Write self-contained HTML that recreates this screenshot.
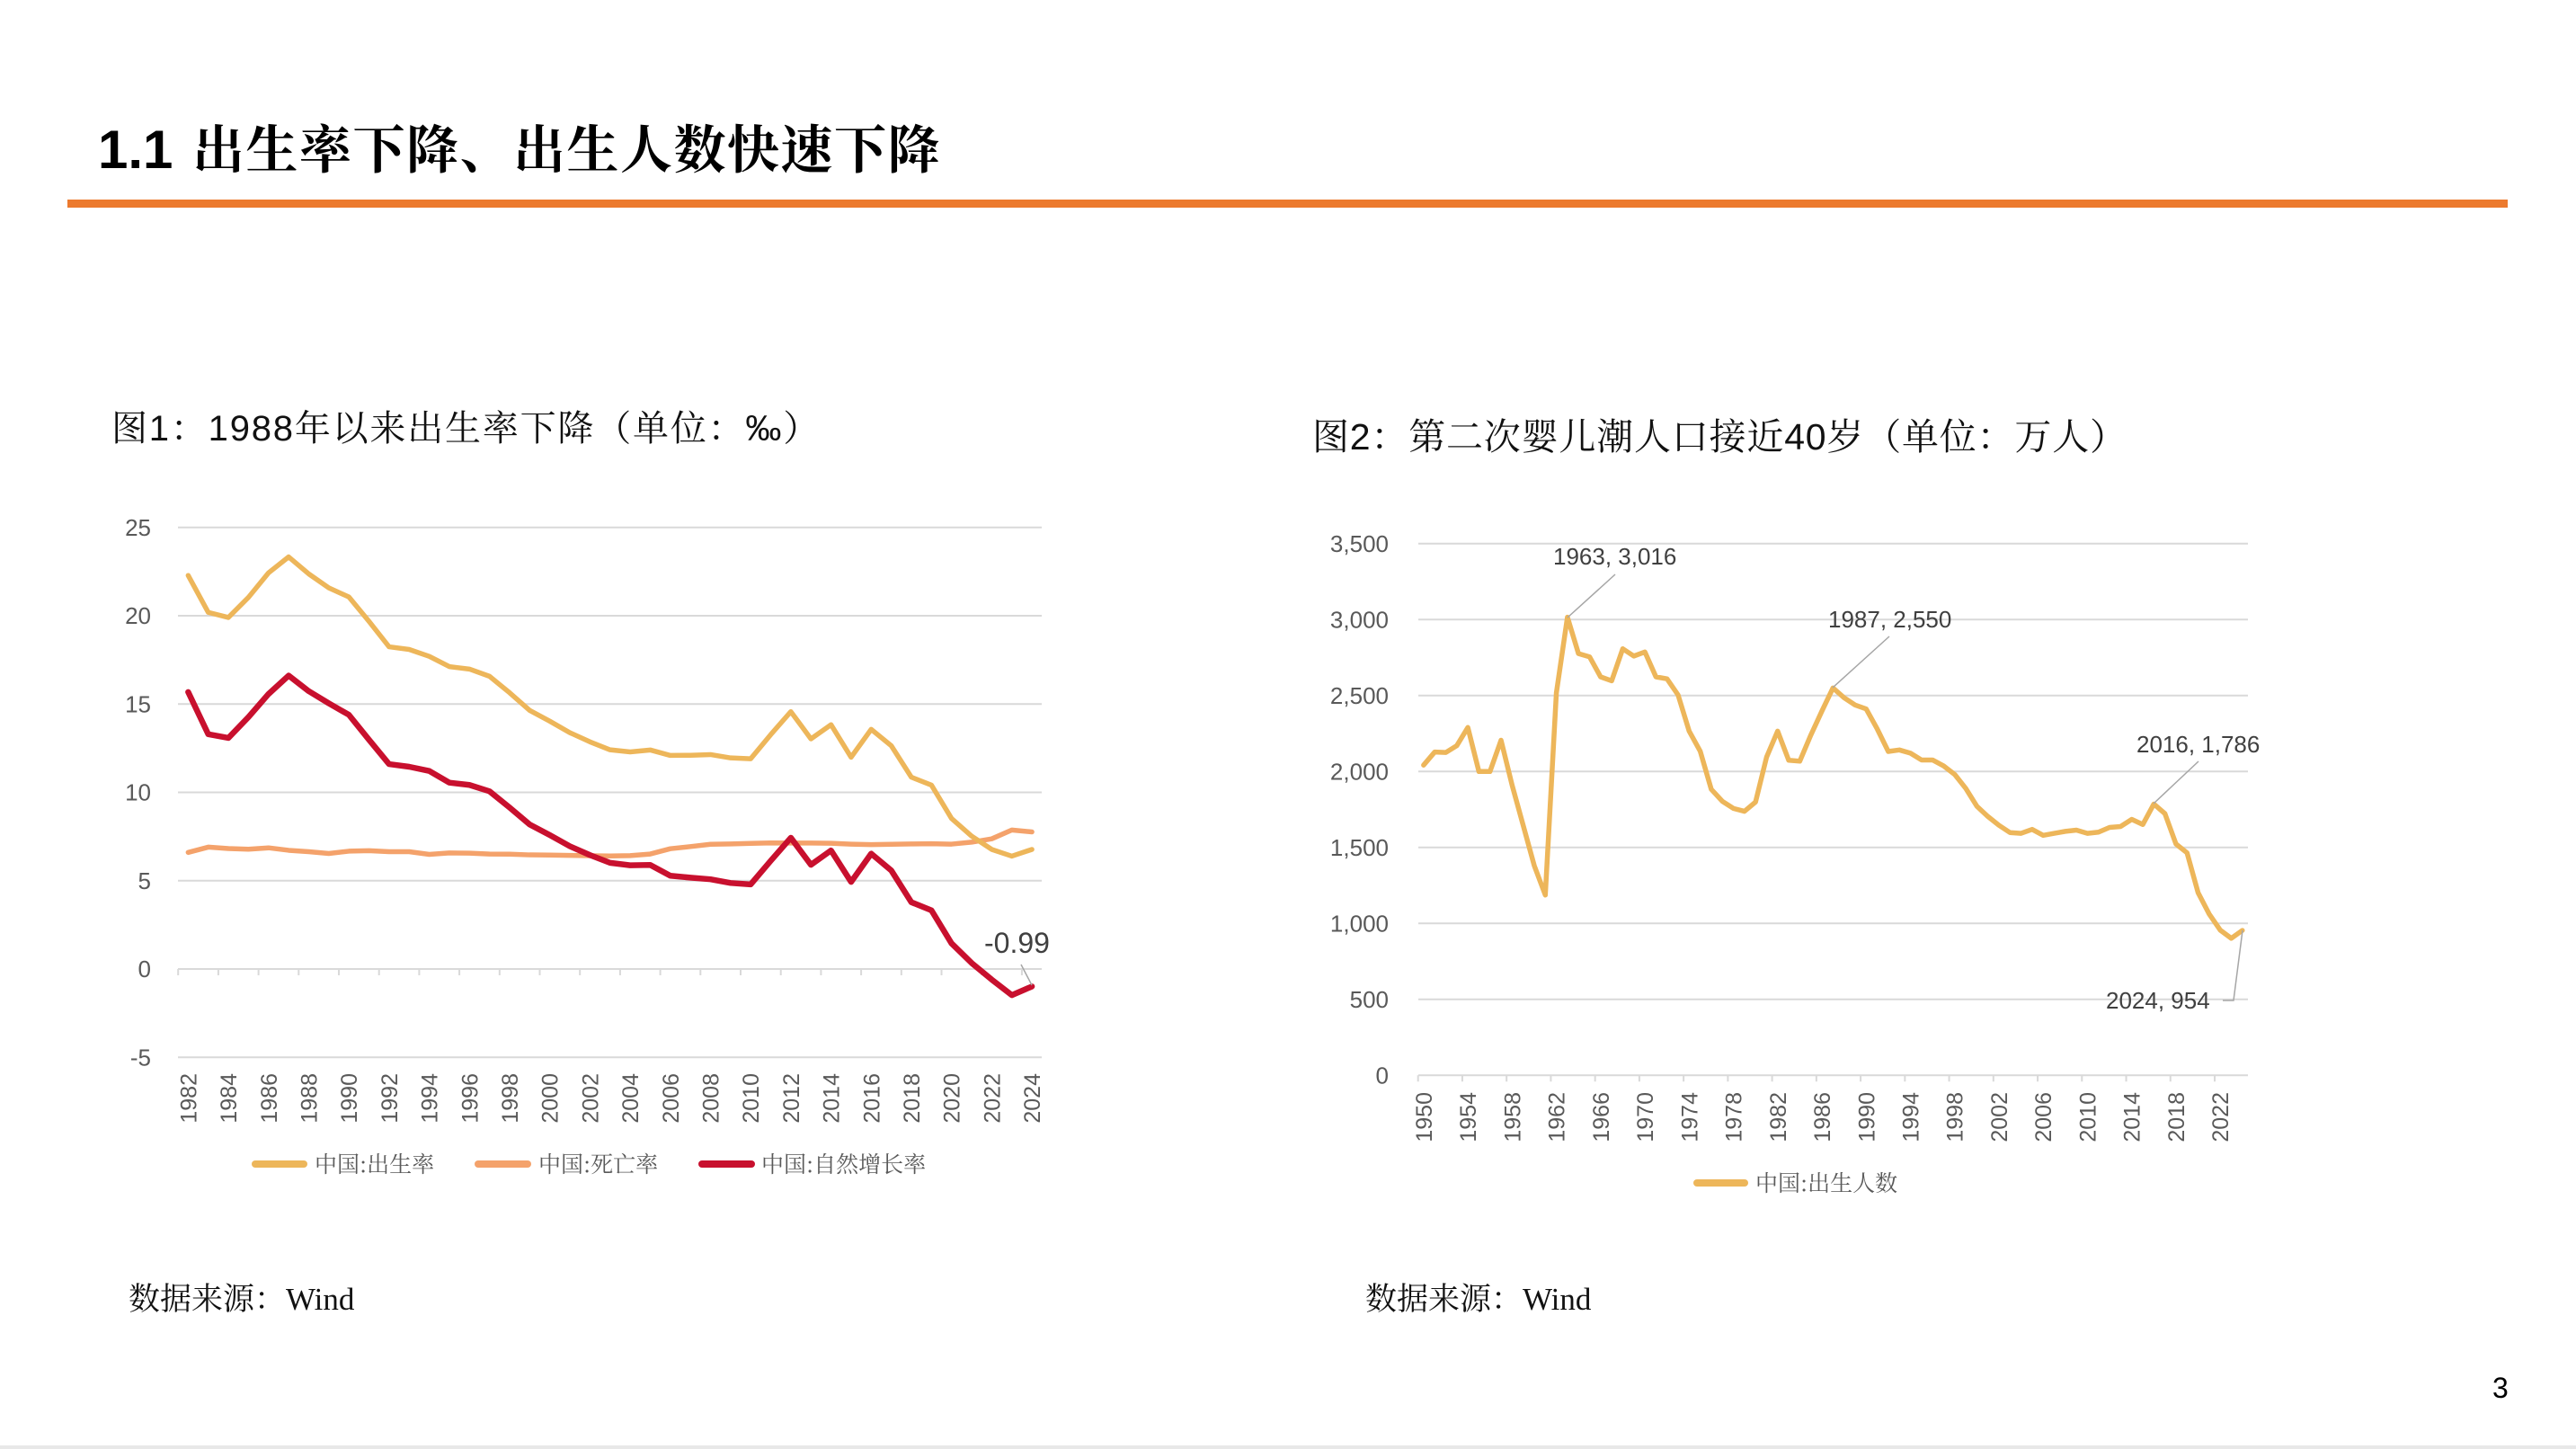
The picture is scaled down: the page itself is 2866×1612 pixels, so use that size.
<!DOCTYPE html>
<html><head><meta charset="utf-8"><style>
html,body{margin:0;padding:0;background:#fff;}
svg{display:block;}
.yl{font-family:"Liberation Sans",sans-serif;font-size:26px;fill:#595959;text-anchor:end;}
.xl{font-family:"Liberation Sans",sans-serif;font-size:25px;fill:#595959;text-anchor:end;}
.an{font-family:"Liberation Sans",sans-serif;font-size:26px;fill:#404040;}
.lg{font-family:"Noto Serif CJK SC","Liberation Serif",serif;font-size:25px;fill:#595959;}
.src{font-family:"Liberation Serif","Noto Serif CJK SC",serif;font-size:35px;fill:#111;}
.ct{font-family:"Liberation Sans","Noto Serif CJK SC",sans-serif;fill:#111;}
.grid{stroke:#D9D9D9;stroke-width:2;}
</style></head><body>
<svg width="2866" height="1612" viewBox="0 0 2866 1612" xmlns="http://www.w3.org/2000/svg">
<rect width="2866" height="1612" fill="#fff"/>
<!-- Title -->
<text x="109" y="187" font-family="Liberation Sans, sans-serif" font-weight="bold" font-size="60" fill="#000">1.1</text>
<text x="214" y="187" font-family="Noto Serif CJK SC, Noto Sans CJK SC, serif" font-weight="bold" font-size="58" letter-spacing="1.5" fill="#000">出生率下降、出生人数快速下降</text>
<rect x="75" y="222" width="2715" height="9" fill="#EC7A2E"/>

<!-- Chart titles -->
<text class="ct" x="124" y="490" font-size="40" letter-spacing="1.8">图1：1988年以来出生率下降（单位：‰）</text>
<text class="ct" x="1460" y="500" font-size="41" letter-spacing="0.8">图2：第二次婴儿潮人口接近40岁（单位：万人）</text>

<!-- LEFT CHART -->
<g>
<line class="grid" x1="198" y1="586.75" x2="1159" y2="586.75"/>
<line class="grid" x1="198" y1="685" x2="1159" y2="685"/>
<line class="grid" x1="198" y1="783.25" x2="1159" y2="783.25"/>
<line class="grid" x1="198" y1="881.5" x2="1159" y2="881.5"/>
<line class="grid" x1="198" y1="979.75" x2="1159" y2="979.75"/>
<line class="grid" x1="198" y1="1176.25" x2="1159" y2="1176.25"/>
<line class="grid" x1="198" y1="1078" x2="1159" y2="1078"/>
<line x1="197.2" y1="1081.5" x2="1140" y2="1081.5" stroke="#D9D9D9" stroke-width="7" stroke-dasharray="2 42.7"/>
<text class="yl" x="168" y="595.75">25</text>
<text class="yl" x="168" y="694">20</text>
<text class="yl" x="168" y="792.25">15</text>
<text class="yl" x="168" y="890.5">10</text>
<text class="yl" x="168" y="988.75">5</text>
<text class="yl" x="168" y="1087">0</text>
<text class="yl" x="168" y="1185.25">-5</text>
<g class="xl">
<text transform="translate(218.4,1194) rotate(-90)">1982</text>
<text transform="translate(263.1,1194) rotate(-90)">1984</text>
<text transform="translate(307.8,1194) rotate(-90)">1986</text>
<text transform="translate(352.5,1194) rotate(-90)">1988</text>
<text transform="translate(397.2,1194) rotate(-90)">1990</text>
<text transform="translate(441.9,1194) rotate(-90)">1992</text>
<text transform="translate(486.6,1194) rotate(-90)">1994</text>
<text transform="translate(531.3,1194) rotate(-90)">1996</text>
<text transform="translate(576.0,1194) rotate(-90)">1998</text>
<text transform="translate(620.7,1194) rotate(-90)">2000</text>
<text transform="translate(665.4,1194) rotate(-90)">2002</text>
<text transform="translate(710.1,1194) rotate(-90)">2004</text>
<text transform="translate(754.8,1194) rotate(-90)">2006</text>
<text transform="translate(799.5,1194) rotate(-90)">2008</text>
<text transform="translate(844.2,1194) rotate(-90)">2010</text>
<text transform="translate(888.9,1194) rotate(-90)">2012</text>
<text transform="translate(933.6,1194) rotate(-90)">2014</text>
<text transform="translate(978.3,1194) rotate(-90)">2016</text>
<text transform="translate(1023.0,1194) rotate(-90)">2018</text>
<text transform="translate(1067.7,1194) rotate(-90)">2020</text>
<text transform="translate(1112.4,1194) rotate(-90)">2022</text>
<text transform="translate(1157.1,1194) rotate(-90)">2024</text>
</g>
<g transform="matrix(22.35 0 0 -19.65 209.375 1078)" fill="none" stroke-linejoin="round" stroke-linecap="round">
<polyline vector-effect="non-scaling-stroke" stroke="#F4A26B" stroke-width="5.5" points="0,6.60 1,6.90 2,6.82 3,6.78 4,6.86 5,6.72 6,6.64 7,6.54 8,6.67 9,6.70 10,6.64 11,6.64 12,6.49 13,6.57 14,6.56 15,6.51 16,6.50 17,6.46 18,6.45 19,6.43 20,6.41 21,6.40 22,6.42 23,6.51 24,6.81 25,6.93 26,7.06 27,7.08 28,7.11 29,7.14 30,7.13 31,7.13 32,7.12 33,7.07 34,7.04 35,7.06 36,7.08 37,7.09 38,7.07 39,7.18 40,7.37 41,7.87 42,7.76"/>
<polyline vector-effect="non-scaling-stroke" stroke="#EDB65A" stroke-width="5.5" points="0,22.28 1,20.19 2,19.90 3,21.04 4,22.43 5,23.33 6,22.37 7,21.58 8,21.06 9,19.68 10,18.24 11,18.09 12,17.70 13,17.12 14,16.98 15,16.57 16,15.64 17,14.64 18,14.03 19,13.38 20,12.86 21,12.41 22,12.29 23,12.40 24,12.09 25,12.10 26,12.14 27,11.95 28,11.90 29,13.27 30,14.57 31,13.03 32,13.83 33,11.99 34,13.57 35,12.64 36,10.86 37,10.41 38,8.52 39,7.52 40,6.77 41,6.39 42,6.77"/>
<polyline vector-effect="non-scaling-stroke" stroke="#C8102E" stroke-width="6.5" points="0,15.68 1,13.29 2,13.08 3,14.26 4,15.57 5,16.61 6,15.73 7,15.04 8,14.39 9,12.98 10,11.60 11,11.45 12,11.21 13,10.55 14,10.42 15,10.06 16,9.14 17,8.18 18,7.58 19,6.95 20,6.45 21,6.01 22,5.87 23,5.89 24,5.28 25,5.17 26,5.08 27,4.87 28,4.79 29,6.13 30,7.43 31,5.90 32,6.71 33,4.93 34,6.53 35,5.58 36,3.78 37,3.32 38,1.45 39,0.34 40,-0.60 41,-1.48 42,-0.99"/>
</g>
<line x1="1136" y1="1073" x2="1148" y2="1096" stroke="#A6A6A6" stroke-width="1.5"/>
<text x="1095" y="1060" font-family="Liberation Sans, sans-serif" font-size="32" fill="#404040">-0.99</text>
<!-- legend -->
<line x1="284" y1="1295" x2="338" y2="1295" stroke="#EDB65A" stroke-width="8" stroke-linecap="round"/>
<text class="lg" x="350" y="1304">中国:出生率</text>
<line x1="532" y1="1295" x2="587" y2="1295" stroke="#F4A26B" stroke-width="8" stroke-linecap="round"/>
<text class="lg" x="599" y="1304">中国:死亡率</text>
<line x1="781" y1="1295" x2="836" y2="1295" stroke="#C8102E" stroke-width="8" stroke-linecap="round"/>
<text class="lg" x="847" y="1304">中国:自然增长率</text>
<text class="src" x="143" y="1457">数据来源：Wind</text>
</g>

<!-- RIGHT CHART -->
<g>
<line class="grid" x1="1578" y1="604.8" x2="2501" y2="604.8"/>
<line class="grid" x1="1578" y1="689.3" x2="2501" y2="689.3"/>
<line class="grid" x1="1578" y1="773.8" x2="2501" y2="773.8"/>
<line class="grid" x1="1578" y1="858.3" x2="2501" y2="858.3"/>
<line class="grid" x1="1578" y1="942.8" x2="2501" y2="942.8"/>
<line class="grid" x1="1578" y1="1027.3" x2="2501" y2="1027.3"/>
<line class="grid" x1="1578" y1="1111.8" x2="2501" y2="1111.8"/>
<line class="grid" x1="1578" y1="1196.3" x2="2501" y2="1196.3"/>
<line x1="1576.7" y1="1199.8" x2="2470" y2="1199.8" stroke="#D9D9D9" stroke-width="7" stroke-dasharray="2 47.24"/>
<text class="yl" x="1545" y="613.8">3,500</text>
<text class="yl" x="1545" y="698.3">3,000</text>
<text class="yl" x="1545" y="782.8">2,500</text>
<text class="yl" x="1545" y="867.3">2,000</text>
<text class="yl" x="1545" y="951.8">1,500</text>
<text class="yl" x="1545" y="1036.3">1,000</text>
<text class="yl" x="1545" y="1120.8">500</text>
<text class="yl" x="1545" y="1205.3">0</text>
<g class="xl">
<text transform="translate(1592.9,1215) rotate(-90)">1950</text>
<text transform="translate(1642.1,1215) rotate(-90)">1954</text>
<text transform="translate(1691.3,1215) rotate(-90)">1958</text>
<text transform="translate(1740.6,1215) rotate(-90)">1962</text>
<text transform="translate(1789.8,1215) rotate(-90)">1966</text>
<text transform="translate(1839.1,1215) rotate(-90)">1970</text>
<text transform="translate(1888.3,1215) rotate(-90)">1974</text>
<text transform="translate(1937.5,1215) rotate(-90)">1978</text>
<text transform="translate(1986.8,1215) rotate(-90)">1982</text>
<text transform="translate(2036.0,1215) rotate(-90)">1986</text>
<text transform="translate(2085.3,1215) rotate(-90)">1990</text>
<text transform="translate(2134.5,1215) rotate(-90)">1994</text>
<text transform="translate(2183.7,1215) rotate(-90)">1998</text>
<text transform="translate(2233.0,1215) rotate(-90)">2002</text>
<text transform="translate(2282.2,1215) rotate(-90)">2006</text>
<text transform="translate(2331.5,1215) rotate(-90)">2010</text>
<text transform="translate(2380.7,1215) rotate(-90)">2014</text>
<text transform="translate(2429.9,1215) rotate(-90)">2018</text>
<text transform="translate(2479.2,1215) rotate(-90)">2022</text>
</g>
<g transform="matrix(12.31 0 0 -0.169 1583.855 1196.3)" fill="none" stroke-linejoin="round" stroke-linecap="round">
<polyline vector-effect="non-scaling-stroke" stroke="#EDB65A" stroke-width="5.5" points="0,2042 1,2128 2,2125 3,2170 4,2290 5,2000 6,2000 7,2206 8,1910 9,1646 10,1381 11,1187 12,2517 13,3016 14,2776 15,2755 16,2623 17,2597 18,2808 19,2760 20,2787 21,2623 22,2610 23,2504 24,2266 25,2134 26,1883 27,1804 28,1757 29,1738 30,1799 31,2095 32,2266 33,2074 34,2068 35,2240 36,2398 37,2550 38,2486 39,2438 40,2412 41,2280 42,2132 43,2142 44,2121 45,2076 46,2076 47,2037 48,1981 49,1889 50,1772 51,1704 52,1646 53,1598 54,1593 55,1619 56,1580 57,1593 58,1606 59,1614 60,1593 61,1601 62,1632 63,1638 64,1685 65,1651 66,1786 67,1723 68,1523 69,1465 70,1202 71,1062 72,956 73,902 74,954"/>
</g>
<g stroke="#A6A6A6" stroke-width="1.5" fill="none">
<line x1="1797" y1="639" x2="1744" y2="687"/>
<line x1="2102" y1="708" x2="2039" y2="765"/>
<line x1="2446" y1="847" x2="2396" y2="894"/>
<polyline points="2473,1113 2485,1113 2495,1035"/>
</g>
<text class="an" x="1728" y="628">1963, 3,016</text>
<text class="an" x="2034" y="698">1987, 2,550</text>
<text class="an" x="2377" y="837">2016, 1,786</text>
<text class="an" x="2343" y="1122">2024, 954</text>
<line x1="1888" y1="1316" x2="1941" y2="1316" stroke="#EDB65A" stroke-width="8" stroke-linecap="round"/>
<text class="lg" x="1953" y="1325">中国:出生人数</text>
<text class="src" x="1519" y="1457">数据来源：Wind</text>
</g>

<!-- page number & bottom band -->
<text x="2773" y="1555" font-family="Liberation Sans, sans-serif" font-size="32" fill="#000">3</text>
<rect x="0" y="1608" width="2866" height="4" fill="#E8E8E8"/>
</svg>
</body></html>
